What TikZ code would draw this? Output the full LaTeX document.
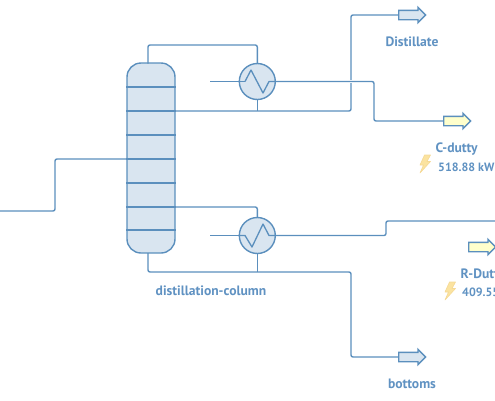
\documentclass[tikz,border=0pt]{standalone}
\usepackage{fontspec}
\setmainfont{PT Sans}
\usetikzlibrary{shapes.arrows}
\definecolor{ln}{HTML}{5B8FBD}
\definecolor{bluefill}{HTML}{D9E5F0}
\definecolor{yel}{HTML}{FFFFCC}
\definecolor{txt}{HTML}{6092C2}
\definecolor{boltfill}{HTML}{FBE3A0}
\definecolor{boltline}{HTML}{F5D995}
\tikzset{
  pipe/.style={draw=ln,line width=1.4pt,rounded corners=2pt},
  tray/.style={draw=ln,line width=1.3pt},
  column/.style={draw=ln,fill=bluefill,line width=1.4pt,rounded corners=14pt,minimum width=48pt,minimum height=190pt,inner sep=0pt},
  hex/.style={circle,draw=ln,fill=bluefill,line width=1.4pt,minimum size=36pt,inner sep=0pt},
  flowarrow/.style={single arrow,draw=ln,line width=1.4pt,minimum height=27pt,minimum width=14pt,single arrow head extend=3pt,single arrow head indent=0pt,inner xsep=0pt,inner ysep=4pt,anchor=tail},
  lab/.style={text=txt,font=\fontsize{13.6}{15}\selectfont\bfseries,inner sep=0pt},
  numlab/.style={text=txt,font=\fontsize{12}{14}\selectfont\bfseries,inner sep=0pt,anchor=west},
  bolt/.style={fill=boltfill,draw=boltline,line width=0.6pt,line join=round}
}
\begin{document}
\begin{tikzpicture}[x=1pt,y=-1pt]
\useasboundingbox (0,0) rectangle (495,400);
\clip (0,0) rectangle (495,400);
% feed
\coordinate (feed) at (0,211);
\coordinate (feedA) at (55,211);
\coordinate (feedB) at (55,159);
% outlet arrows
\node[flowarrow,fill=bluefill] (dist) at (398,15) {};
\node[flowarrow,fill=yel] (cduty) at (443,121) {};
\node[flowarrow,fill=yel] (rduty) at (468,247) {};
\node[flowarrow,fill=bluefill] (bott) at (398,357) {};
% pipes behind equipment
\node[column] (col) at (151,158) {};
\node[hex] (cond) at (257.3,81.5) {};
\node[hex] (reb) at (257.3,235.5) {};
\coordinate (top) at (148,63.5);
\coordinate (bot) at (148,253);
\coordinate (cin) at (210,81.5);
\coordinate (rin) at (210,235.5);
\coordinate (rout) at (495,221);
\draw[pipe] (feed) -- (feedA) -- (feedB) -- (feedB -| col.west);
\draw[pipe] (top) -- (148,45) -- (257.3,45) -- (cond.north);
\draw[tray] (cond.south) -- (257.3,111);
\draw[pipe] (175,111) -- (351,111) -- (351,15) -- (dist.tail);
\draw[pipe] (cin) -- (cond.west);
\draw[draw=white,line width=2.2pt] (346,81.5) -- (356,81.5);
\draw[pipe] (cond.east) -- (374,81.5) -- (374,121) -- (cduty.tail);
\draw[pipe] (175,207) -- (257.3,207) -- (reb.north);
\draw[tray] (reb.south) -- (257.3,272);
\draw[pipe] (bot) -- (148,272) -- (351,272) -- (351,357) -- (bott.tail);
\draw[pipe] (rin) -- (reb.west);
\draw[pipe] (reb.east) -- (386,235.5) -- (386,221) -- (rout);
% trays
\foreach \y in {87,111,135,159,183,207,230}
  \draw[tray] (col.west |- 0,\y) -- (col.east |- 0,\y);
% coils
\draw[tray,line join=round] (245,81.5) -- (251,70) -- (263,93) -- (269,81.5) -- (cond.east);
\draw[tray] (cond.west) -- (245,81.5);
\draw[tray,line join=round] (reb.west) -- (245,235.5) -- (252,247) -- (263,224) -- (269,235.5) -- (reb.east);
% labels
\node[lab] (ldist) at (412,42) {Distillate};
\node[lab] (lcol) at (211,291) {distillation-column};
\node[lab] (lbott) at (412,384) {bottoms};
\node[lab,anchor=west] (lc) at (435.5,149) {C-dutty};
\node[numlab] (lcv) at (438,167) {518.88 kW};
\node[lab,anchor=west] (lr) at (460.5,275) {R-Dutty};
\node[numlab] (lrv) at (462,292) {409.55 kW};
% bolts
\foreach \dx/\dy in {0/0,25/127}
  \draw[bolt,shift={(\dx,\dy)}] (424.5,155) -- (430.5,155) -- (427,161.5) -- (430.5,161.5) -- (420,173) -- (423.5,165) -- (420,165) -- cycle;
\end{tikzpicture}
\end{document}
